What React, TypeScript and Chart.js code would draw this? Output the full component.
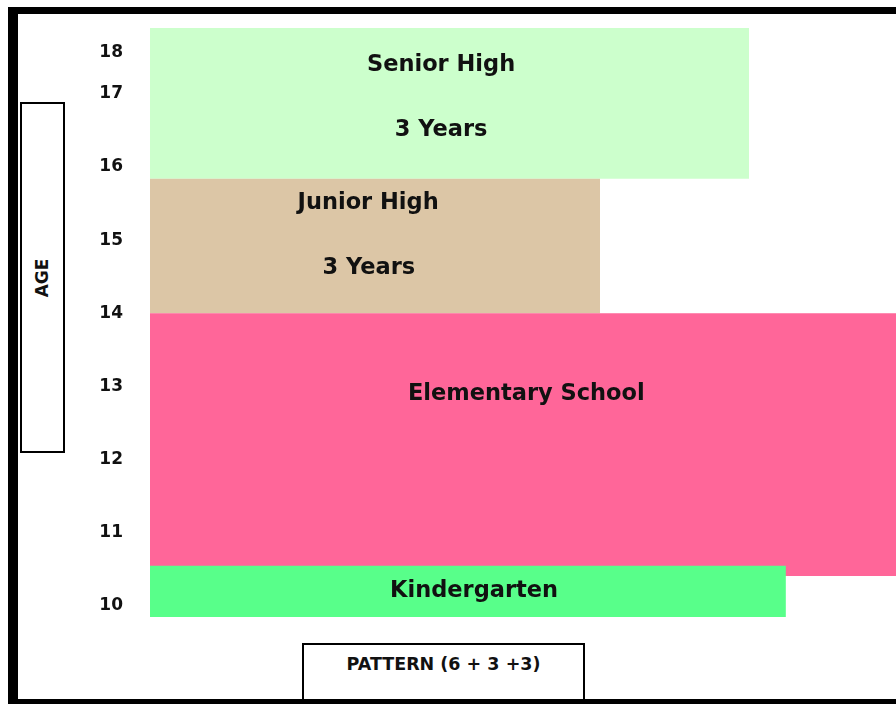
import React, { useEffect, useRef } from "react";
import { Chart, registerables } from "chart.js";

Chart.register(...registerables);

// Age axis
const tickLabels = ["10", "11", "12", "13", "14", "15", "16", "17", "18"];
const tickValues = [10, 11, 12, 13, 14, 15, 16, 17, 17.57];

// School stages (drawn bottom-up; first is drawn on top)
const stageNames = ["Kindergarten", "Elementary School", "Junior High", "Senior High"];
const stageFrom = [9.85, 10.41, 14.0, 15.84];
const stageTo = [10.55, 14.0, 15.84, 17.9];
const stageExtent = [82.8, 100, 58.6, 78.0];
const stageColors = ["#58FF8A", "#FF6699", "#DCC6A6", "#CCFFCC"];

// Text inside the blocks
const labelTexts = ["Senior High", "3 Years", "Junior High", "3 Years", "Elementary School", "Kindergarten"];
const labelX = [37.9, 37.9, 28.4, 28.5, 49.0, 42.2];
const labelY = [17.42, 16.53, 15.535, 14.65, 12.925, 10.23];

const FONT = "'DejaVu Sans', Verdana, sans-serif";

const blockLabels = {
  id: "blockLabels",
  afterDatasetsDraw(chart: any) {
    const { ctx, scales } = chart;
    ctx.save();
    ctx.font = `bold 22.5px ${FONT}`;
    ctx.fillStyle = "#111111";
    ctx.textAlign = "center";
    ctx.textBaseline = "middle";
    labelTexts.forEach((t, i) => {
      ctx.fillText(t, scales.x.getPixelForValue(labelX[i]), scales.y.getPixelForValue(labelY[i]) + 2);
    });
    ctx.restore();
  },
};

export default function App() {
  const ref = useRef<HTMLCanvasElement | null>(null);

  useEffect(() => {
    if (!ref.current) return;
    const chart = new Chart(ref.current, {
      type: "line",
      data: {
        datasets: stageNames.map((name, i) => ({
          label: name,
          data: [
            { x: 0, y: stageTo[i] },
            { x: stageExtent[i], y: stageTo[i] },
          ],
          backgroundColor: stageColors[i],
          borderColor: "rgba(0,0,0,0)",
          borderWidth: 0,
          pointRadius: 0,
          tension: 0,
          fill: { value: stageFrom[i] },
        })),
      },
      options: {
        responsive: false,
        animation: false,
        layout: { padding: { top: 6.66, bottom: 56.4, left: 0, right: 0 } },
        plugins: {
          legend: { display: false },
          tooltip: { enabled: false },
        },
        scales: {
          x: { type: "linear", min: 0, max: 100, display: false },
          y: {
            type: "linear",
            min: 9.5,
            max: 18,
            grid: { display: false, drawTicks: false },
            border: { display: false },
            afterBuildTicks: (axis: any) => {
              axis.ticks = tickValues.map((v) => ({ value: v }));
            },
            afterFit: (axis: any) => {
              axis.width = 132;
              axis.paddingTop = 0;
              axis.paddingBottom = 0;
            },
            ticks: {
              autoSkip: false,
              padding: 27,
              color: "#111111",
              font: { family: FONT, size: 17, weight: "bold" },
              callback: (_v: any, idx: number) => tickLabels[idx],
            },
          },
        },
      },
      plugins: [blockLabels],
    });
    return () => chart.destroy();
  }, []);

  return (
    <div
      style={{
        position: "fixed",
        left: 8,
        top: 7,
        width: 888,
        height: 697,
        boxSizing: "border-box",
        borderLeft: "10px solid #000",
        borderTop: "7px solid #000",
        borderBottom: "5px solid #000",
        overflow: "hidden",
        background: "#fff",
        fontFamily: FONT,
      }}
    >
      <canvas
        ref={ref}
        width={900}
        height={685}
        style={{ position: "absolute", left: 0, top: 0, width: 900, height: 685 }}
      />
      <div
        style={{
          position: "absolute",
          left: 64,
          top: -2,
          width: 59,
          height: 2,
          background: "#fff",
        }}
      />
      <div
        style={{
          position: "absolute",
          left: 2,
          top: 88,
          width: 45,
          height: 351,
          boxSizing: "border-box",
          border: "2px solid #000",
          background: "#fff",
          display: "flex",
          alignItems: "center",
          justifyContent: "center",
        }}
      >
        <span
          style={{
            transform: "rotate(-90deg)",
            fontWeight: "bold",
            fontSize: 17,
            color: "#111",
            whiteSpace: "nowrap",
            display: "inline-block",
          }}
        >
          AGE
        </span>
      </div>
      <div
        style={{
          position: "absolute",
          left: 284,
          top: 629,
          width: 283,
          height: 60,
          boxSizing: "border-box",
          border: "2px solid #000",
          borderBottom: "none",
          background: "#fff",
          textAlign: "center",
          paddingTop: 9,
          fontWeight: "bold",
          fontSize: 17.5,
          color: "#111",
          whiteSpace: "nowrap",
        }}
      >
        PATTERN (6 + 3 +3)
      </div>
    </div>
  );
}
